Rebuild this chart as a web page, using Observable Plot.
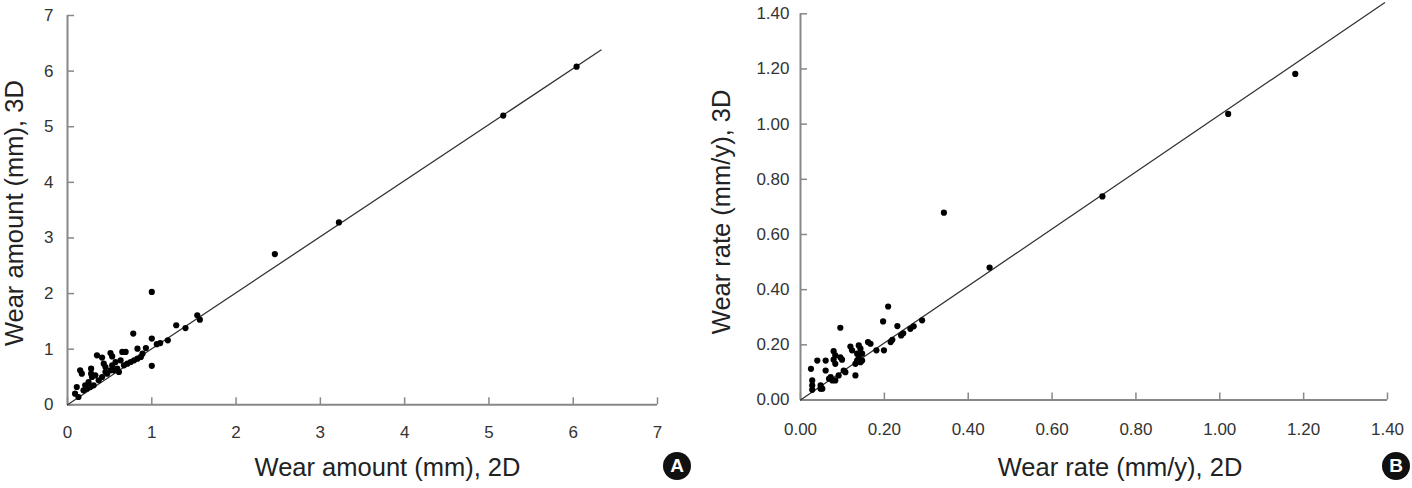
<!DOCTYPE html>
<html>
<head>
<meta charset="utf-8">
<script src="https://cdn.jsdelivr.net/npm/d3@7"></script>
<script src="https://cdn.jsdelivr.net/npm/@observablehq/plot@0.6"></script>
<style>
  body { margin: 0; background: #fff; }
  #wrap { position: relative; width: 1412px; height: 488px; overflow: hidden; background: #fff; }
  .panel { position: absolute; top: 0; }
  .badge {
    position: absolute; width: 28px; height: 28px; border-radius: 50%;
    background: #111; color: #fff;
    font: bold 19px "Liberation Sans", Arial, sans-serif;
    display: flex; align-items: center; justify-content: center;
  }
</style>
</head>
<body>
<div id="wrap"></div>
<script>
// Panel A: wear amount (mm), 2D vs 3D measurement
const amount2D = [1.00, 1.00, 1.00, 0.78, 1.29, 1.40, 1.54, 1.57, 1.19, 1.06, 1.10, 0.93, 0.83, 0.65, 0.69,
  0.51, 0.53, 0.35, 0.41, 0.43, 0.45, 0.28, 0.28, 0.15, 0.17, 0.11, 0.09, 0.13, 0.19, 0.23, 0.27, 0.31,
  0.37, 0.41, 0.47, 0.51, 0.55, 0.59, 0.61, 0.67, 0.71, 0.75, 0.79, 0.83, 0.87, 0.57, 0.53, 0.45, 0.33,
  0.25, 0.21, 0.29, 0.63, 0.89, 2.46, 3.22, 5.17, 6.04];
const amount3D = [2.03, 0.70, 1.19, 1.28, 1.43, 1.38, 1.61, 1.53, 1.16, 1.09, 1.11, 1.02, 1.01, 0.95, 0.95,
  0.93, 0.87, 0.89, 0.85, 0.74, 0.68, 0.65, 0.56, 0.62, 0.56, 0.32, 0.20, 0.14, 0.26, 0.29, 0.32, 0.35,
  0.44, 0.50, 0.56, 0.62, 0.62, 0.65, 0.59, 0.71, 0.74, 0.77, 0.80, 0.83, 0.86, 0.77, 0.71, 0.59, 0.53,
  0.41, 0.35, 0.50, 0.80, 0.92, 2.71, 3.28, 5.20, 6.08];
const amountFitX = [0, 6.33];
const amountFitY = [0, 6.38];
const amountTicks = [0, 1, 2, 3, 4, 5, 6, 7];

// Panel B: wear rate (mm/y), 2D vs 3D measurement
const rate2D = [0.209, 0.197, 0.231, 0.290, 0.270, 0.262, 0.245, 0.240, 0.219, 0.215, 0.199, 0.181, 0.161,
  0.167, 0.147, 0.147, 0.095, 0.040, 0.060, 0.025, 0.079, 0.083, 0.079, 0.083, 0.095, 0.099, 0.119, 0.123,
  0.139, 0.143, 0.135, 0.139, 0.135, 0.143, 0.131, 0.131, 0.103, 0.107, 0.060, 0.068, 0.076, 0.083, 0.072,
  0.091, 0.028, 0.028, 0.048, 0.052, 0.028, 0.048, 0.342, 0.451, 0.720, 1.020, 1.180];
const rate3D = [0.339, 0.285, 0.268, 0.289, 0.267, 0.258, 0.242, 0.234, 0.218, 0.210, 0.180, 0.180, 0.210,
  0.204, 0.168, 0.143, 0.262, 0.143, 0.143, 0.113, 0.177, 0.162, 0.146, 0.131, 0.155, 0.146, 0.194, 0.180,
  0.198, 0.186, 0.168, 0.155, 0.143, 0.137, 0.131, 0.089, 0.107, 0.101, 0.107, 0.077, 0.071, 0.071, 0.083,
  0.089, 0.071, 0.053, 0.053, 0.041, 0.037, 0.041, 0.679, 0.480, 0.738, 1.037, 1.182];
const rateFitX = [0, 1.393];
const rateFitY = [0, 1.44];
const rateTicks = [0, 0.2, 0.4, 0.6, 0.8, 1.0, 1.2, 1.4];

const FONT = '"Liberation Sans", Arial, Helvetica, sans-serif';
const AXIS = "#888";
const INK = "#333";

function scatterPanel(cfg) {
  const pts = cfg.xs.map((x, i) => ({x, y: cfg.ys[i]}));
  const fit = cfg.fitX.map((x, i) => ({x, y: cfg.fitY[i]}));
  const domain = [cfg.ticks[0], cfg.ticks[cfg.ticks.length - 1]];
  return Plot.plot({
    width: cfg.width,
    height: 488,
    marginTop: cfg.mt, marginBottom: cfg.mb, marginLeft: cfg.ml, marginRight: cfg.mr,
    style: {fontFamily: FONT, fontSize: "17px", color: INK, background: "transparent", overflow: "visible"},
    x: {domain},
    y: {domain},
    marks: [
      // axis lines
      Plot.ruleY([0], {stroke: AXIS, strokeWidth: 2}),
      Plot.ruleX([0], {stroke: AXIS, strokeWidth: 2}),
      // inward tick marks
      Plot.ruleX(cfg.ticks, {y1: 0, y2: 0, insetTop: -7, stroke: AXIS, strokeWidth: 1.5}),
      Plot.ruleY(cfg.ticks, {x1: 0, x2: 0, insetRight: -7, stroke: AXIS, strokeWidth: 1.5}),
      // tick labels
      Plot.axisX({ticks: cfg.ticks, tickFormat: cfg.fmt, tickSize: 0, tickPadding: cfg.padX, label: null, fontSize: 17}),
      Plot.axisY({ticks: cfg.ticks, tickFormat: cfg.fmt, tickSize: 0, tickPadding: cfg.padY, label: null, fontSize: 17}),
      // agreement line
      Plot.line(fit, {x: "x", y: "y", stroke: INK, strokeWidth: 1.3}),
      // measurements
      Plot.dot(pts, {x: "x", y: "y", r: 3.1, fill: "#000", stroke: "none"}),
      // axis titles
      Plot.text([cfg.xLabel], {frameAnchor: "bottom", textAnchor: "middle", dx: cfg.xTitleDx, dy: cfg.xTitleDy,
        fontSize: 25.5, fill: "#222", lineAnchor: "middle"}),
      Plot.text([cfg.yLabel], {frameAnchor: "left", textAnchor: "middle", rotate: -90, dx: cfg.yTitleDx, dy: cfg.yTitleDy,
        fontSize: 25.5, fill: "#222", lineAnchor: "middle"})
    ]
  });
}

const wrap = document.getElementById("wrap");

const panelA = scatterPanel({
  xs: amount2D, ys: amount3D, fitX: amountFitX, fitY: amountFitY, ticks: amountTicks,
  fmt: d3.format("d"),
  xLabel: "Wear amount (mm), 2D", yLabel: "Wear amount (mm), 3D",
  width: 706, mt: 15, mb: 83.7, ml: 67, mr: 49,
  padX: 21, padY: 14, xTitleDx: 25, xTitleDy: 63, yTitleDx: -53, yTitleDy: 3
});
const panelB = scatterPanel({
  xs: rate2D, ys: rate3D, fitX: rateFitX, fitY: rateFitY, ticks: rateTicks,
  fmt: d => d.toFixed(2),
  xLabel: "Wear rate (mm/y), 2D", yLabel: "Wear rate (mm/y), 3D",
  width: 706, mt: 13.3, mb: 88.5, ml: 94, mr: 25,
  padX: 23, padY: 11, xTitleDx: 26, xTitleDy: 67.5, yTitleDx: -79, yTitleDy: 5
});

const boxA = document.createElement("div");
boxA.className = "panel"; boxA.style.left = "0px"; boxA.appendChild(panelA);
const boxB = document.createElement("div");
boxB.className = "panel"; boxB.style.left = "706px"; boxB.appendChild(panelB);
wrap.appendChild(boxA);
wrap.appendChild(boxB);

// panel badges
[["A", 677, 466], ["B", 1396, 466]].forEach(([t, cx, cy]) => {
  const b = document.createElement("div");
  b.className = "badge";
  b.textContent = t;
  b.style.left = (cx - 14) + "px";
  b.style.top = (cy - 14) + "px";
  wrap.appendChild(b);
});
</script>
</body>
</html>
